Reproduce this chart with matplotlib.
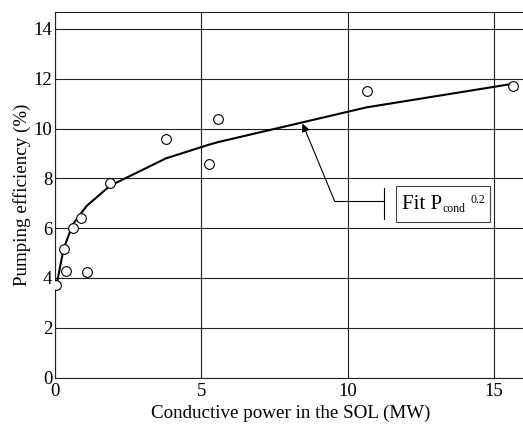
import matplotlib.pyplot as plt
from matplotlib.patches import Rectangle

powerMW = [0.05, 0.3, 0.38, 0.61, 0.89, 1.09, 1.88, 3.79, 5.26, 5.56, 10.65, 15.67]
efficiency = [3.7, 5.15, 4.26, 6.0, 6.4, 4.22, 7.8, 9.57, 8.57, 10.38, 11.5, 11.7]

# fit curve vertices (P_cond^0.2 fit, as drawn)
fitPower = [0.05, 0.3, 0.61, 0.89, 1.09, 1.88, 3.79, 5.26, 5.56, 10.65, 15.67]
fitEfficiency = [3.7, 5.2, 6.15, 6.6, 6.9, 7.7, 8.8, 9.35, 9.45, 10.85, 11.8]

xTicks = [0, 5, 10, 15]
yTicks = [0, 2, 4, 6, 8, 10, 12, 14]

plt.rcParams['font.family'] = ['Liberation Serif', 'DejaVu Serif']

fig = plt.figure(figsize=(5.23, 4.24), dpi=100)
ax = fig.add_axes([55 / 523, 46.5 / 424, 471 / 523, 365.5 / 424])

ax.plot(fitPower, fitEfficiency, color='black', lw=1.5, zorder=3)
ax.plot(powerMW, efficiency, linestyle='none', marker='o', markersize=7,
        markerfacecolor='white', markeredgecolor='black', markeredgewidth=0.8, zorder=4)

ax.set_xlim(0, 16.1)
ax.set_ylim(0, 14.68)
ax.set_xticks(xTicks)
ax.set_yticks(yTicks)
ax.grid(True, color='#222222', lw=0.8)
ax.tick_params(direction='in', length=0, labelsize=13.5)
ax.tick_params(axis='y', pad=2)
ax.tick_params(axis='x', pad=4)
for s in ax.spines.values():
    s.set_linewidth(0.8)
    s.set_color('#222222')

ax.set_xlabel('Conductive power in the SOL (MW)', fontsize=13.7, va='top')
ax.xaxis.set_label_coords(0.5, -0.075)
ax.set_ylabel('Pumping efficiency (%)', fontsize=13.7)
ax.yaxis.set_label_coords(-0.05, 0.5)

# annotation: arrow from the label box to the fit curve
ax.annotate('', xy=(8.46, 10.2), xytext=(9.56, 7.08),
            arrowprops=dict(arrowstyle='-|>', color='black', lw=0.8,
                            mutation_scale=12, shrinkA=0, shrinkB=0), zorder=5)
ax.plot([9.56, 11.23], [7.08, 7.08], color='black', lw=0.8, zorder=5)
ax.plot([11.23, 11.23], [6.36, 7.6], color='black', lw=0.8, zorder=5)
ax.add_patch(Rectangle((11.67, 6.24), 3.2, 1.45, facecolor='white',
                       edgecolor='#444444', lw=0.8, zorder=5))
labelY = 6.77
t1 = ax.text(11.85, labelY, 'Fit P', fontsize=15, va='baseline', ha='left', zorder=6)
t2 = ax.annotate('cond', xy=(1, labelY), xycoords=(t1, 'data'), xytext=(0.5, -2.5),
                 textcoords='offset points', fontsize=8.5, va='baseline', ha='left', zorder=6)
ax.annotate('0.2', xy=(1, labelY), xycoords=(t2, 'data'), xytext=(4, 4),
            textcoords='offset points', fontsize=8.5, va='baseline', ha='left', zorder=6)

fig.savefig('out.png', dpi=100)
